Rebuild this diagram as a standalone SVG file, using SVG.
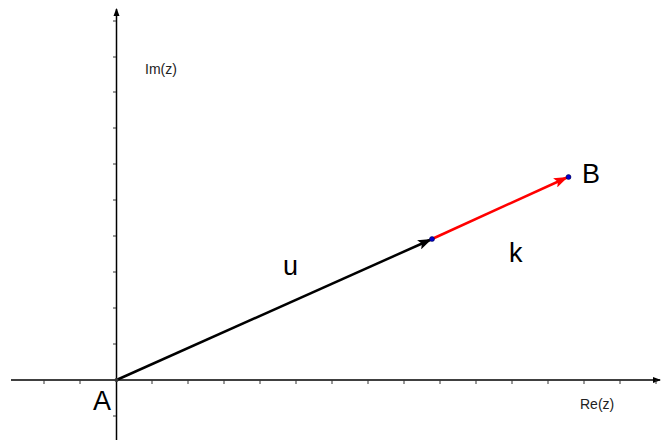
<svg xmlns="http://www.w3.org/2000/svg" width="661" height="440" viewBox="0 0 661 440">
<style>
.axis{stroke:#000;stroke-width:1.5;fill:none}
.tick{stroke:#333;stroke-width:1}
.lbl{font-family:"Liberation Sans",Arial,sans-serif;fill:#000}
.small{font-size:14px;fill:#222}
.big{font-size:27px}
.vec{stroke-width:2.5;fill:none}
.pt{fill:#0000cc;stroke:#000033;stroke-width:0.5}
</style>
<defs>
<marker id="ah-axis" markerWidth="8" markerHeight="8" refX="7" refY="4" orient="auto" markerUnits="userSpaceOnUse">
<path d="M0,1 L8,4 L0,7 Z" fill="#000"/>
</marker>
<marker id="ah-black" markerWidth="14" markerHeight="10" refX="13" refY="5" orient="auto" markerUnits="userSpaceOnUse">
<path d="M0,0 L14,5 L0,10 L3,5 Z" fill="#000"/>
</marker>
<marker id="ah-red" markerWidth="14" markerHeight="10" refX="13" refY="5" orient="auto" markerUnits="userSpaceOnUse">
<path d="M0,0 L14,5 L0,10 L3,5 Z" fill="#ff0000"/>
</marker>
</defs>
<rect width="661" height="440" fill="#fff"/>
<g id="axes">
<line class="axis" x1="11" y1="380" x2="660" y2="380" marker-end="url(#ah-axis)"/>
<line class="axis" x1="116.5" y1="440" x2="116.5" y2="9" marker-end="url(#ah-axis)"/>
<g class="tick">
<line x1="44" y1="380" x2="44" y2="384"/><line x1="80" y1="380" x2="80" y2="384"/>
<line x1="152" y1="380" x2="152" y2="384"/><line x1="188" y1="380" x2="188" y2="384"/>
<line x1="224" y1="380" x2="224" y2="384"/><line x1="260" y1="380" x2="260" y2="384"/>
<line x1="296" y1="380" x2="296" y2="384"/><line x1="332" y1="380" x2="332" y2="384"/>
<line x1="368" y1="380" x2="368" y2="384"/><line x1="404" y1="380" x2="404" y2="384"/>
<line x1="440" y1="380" x2="440" y2="384"/><line x1="476" y1="380" x2="476" y2="384"/>
<line x1="512" y1="380" x2="512" y2="384"/><line x1="548" y1="380" x2="548" y2="384"/>
<line x1="584" y1="380" x2="584" y2="384"/><line x1="620" y1="380" x2="620" y2="384"/>
<line x1="656" y1="380" x2="656" y2="384"/>
<line x1="113" y1="416" x2="116" y2="416"/>
<line x1="113" y1="344" x2="116" y2="344"/><line x1="113" y1="308" x2="116" y2="308"/>
<line x1="113" y1="272" x2="116" y2="272"/><line x1="113" y1="236" x2="116" y2="236"/>
<line x1="113" y1="200" x2="116" y2="200"/><line x1="113" y1="164" x2="116" y2="164"/>
<line x1="113" y1="128" x2="116" y2="128"/><line x1="113" y1="92" x2="116" y2="92"/>
<line x1="113" y1="57" x2="116" y2="57"/><line x1="113" y1="21" x2="116" y2="21"/>
</g>
<text class="lbl small" x="145" y="74">Im(z)</text>
<text class="lbl small" x="580" y="409">Re(z)</text>
</g>
<g id="connectors">
<line id="vec-u" class="vec" stroke="#000" x1="116.5" y1="380" x2="431" y2="239.5" marker-end="url(#ah-black)"/>
<line id="vec-k" class="vec" stroke="#ff0000" x1="432" y1="239" x2="567" y2="177.5" marker-end="url(#ah-red)"/>
</g>
<g id="node-A">
<circle cx="116.5" cy="380" r="2" fill="#333"/>
<text class="lbl big" x="93" y="410">A</text>
</g>
<g id="node-mid">
<circle class="pt" cx="432" cy="239" r="2.5"/>
</g>
<g id="node-B">
<circle class="pt" cx="568.5" cy="177" r="2.5"/>
<text class="lbl big" x="582" y="183">B</text>
</g>
<g id="label-u"><text class="lbl big" x="283" y="275">u</text></g>
<g id="label-k"><text class="lbl big" x="509" y="262">k</text></g>
</svg>
